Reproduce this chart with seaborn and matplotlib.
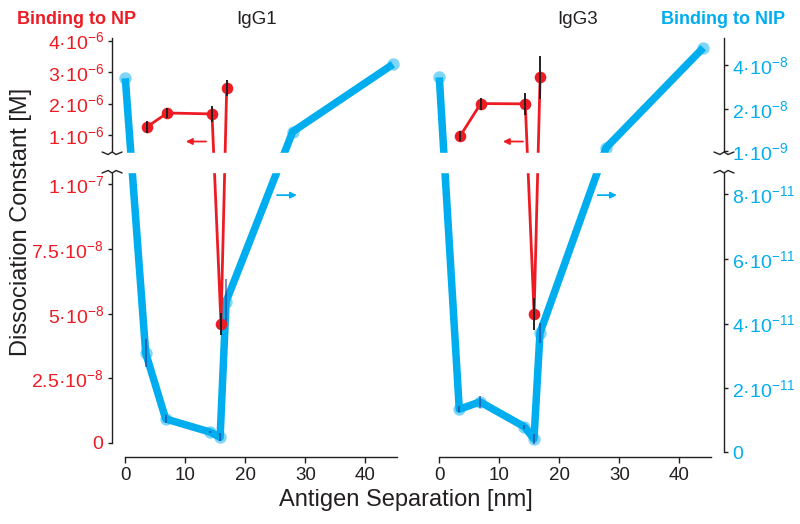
import numpy as np
import matplotlib
matplotlib.use("Agg")
import matplotlib.pyplot as plt
from matplotlib.lines import Line2D
import seaborn as sns

RED = "#ED1C24"
CYAN = "#00AEEF"
NAVY = "#2E3192"
INK = "#231F20"

# ── data ─────────────────────────────────────────────────────────────────────
# Binding to NP (red, left axis) [M]
np_x_igg1 = [3.55, 7.0, 14.45, 15.95, 16.9]
np_kd_igg1 = [1.25e-6, 1.70e-6, 1.67e-6, 4.6e-8, 2.5e-6]
np_err_igg1 = [0.19e-6, 0.16e-6, 0.25e-6, 4.3e-9, 0.25e-6]

np_x_igg3 = [3.45, 6.9, 14.33, 15.8, 16.8]
np_kd_igg3 = [0.96e-6, 2.0e-6, 1.99e-6, 4.99e-8, 2.84e-6]
np_err_igg3 = [0.16e-6, 0.19e-6, 0.35e-6, 6.3e-9, 0.68e-6]

# Binding to NIP (cyan, right axis) [M]
nip_x_igg1 = [0, 3.4, 6.73, 14.2, 15.8, 16.8, 27.9, 44.6]
nip_kd_igg1 = [3.40e-8, 3.08e-11, 1.04e-11, 6.3e-12, 4.7e-12, 4.68e-11, 9.9e-9, 4.03e-8]
nip_err_igg1 = [0, 4.3e-12, 1.2e-12, 0.3e-12, 1.2e-12, 7.0e-12, 0, 0]

nip_x_igg3 = [0, 3.33, 6.78, 14.17, 15.78, 16.78, 27.8, 44.0]
nip_kd_igg3 = [3.44e-8, 1.34e-11, 1.57e-11, 8.0e-12, 4.2e-12, 3.71e-11, 2.66e-9, 4.78e-8]
nip_err_igg3 = [0, 0.9e-12, 1.9e-12, 0.6e-12, 1.5e-12, 3.1e-12, 0, 0]

x_ticks = [0, 10, 20, 30, 40]
np_ticks = [0, 2.5e-8, 5e-8, 7.5e-8, 1e-7, 1e-6, 2e-6, 3e-6, 4e-6]
np_tick_labels = ["0", "2.5·10^{-8}", "5·10^{-8}", "7.5·10^{-8}", "1·10^{-7}",
                  "1·10^{-6}", "2·10^{-6}", "3·10^{-6}", "4·10^{-6}"]
nip_ticks = [0, 2e-11, 4e-11, 6e-11, 8e-11, 1e-9, 2e-8, 4e-8]
nip_tick_labels = ["0", "2·10^{-11}", "4·10^{-11}", "6·10^{-11}", "8·10^{-11}",
                   "1·10^{-9}", "2·10^{-8}", "4·10^{-8}"]

# ── style ────────────────────────────────────────────────────────────────────
sns.set_theme(style="ticks")
plt.rcParams["font.family"] = ["Liberation Sans", "DejaVu Sans"]
plt.rcParams["mathtext.fontset"] = "custom"
plt.rcParams["mathtext.rm"] = "Liberation Sans"
plt.rcParams["mathtext.default"] = "regular"

W, H = 800, 524
TOP_PX, BOTTOM_PX = 38, 457       # axes box rows (pixels from top)
GAP = (153, 172)                  # break rows
XLIM = (-2.2, 47.45)
PANEL_W = 297.9
PANEL_LEFT = [112.1, 426.1]


def broken_axis(ax, lo_zero_px, lo_px_per, hi_ref, hi_ref_px, hi_px_per):
    """Two linear y pieces around a gap, matched to the pixel rows of the figure."""
    def lo_val(px):
        return (lo_zero_px - px) / lo_px_per

    def hi_val(px):
        return hi_ref + (hi_ref_px - px) / hi_px_per

    v_b, v_t = lo_val(GAP[1]), hi_val(GAP[0])
    vals = np.array([lo_val(BOTTOM_PX + 2000), v_b, v_t, hi_val(TOP_PX - 2000)])
    rows = -np.array([BOTTOM_PX + 2000, GAP[1], GAP[0], TOP_PX - 2000], dtype=float)
    ax.set_yscale("function",
                  functions=(lambda v: np.interp(v, vals, rows),
                             lambda t: np.interp(t, rows, vals)))
    return (lo_val(BOTTOM_PX), hi_val(TOP_PX)), (v_b, v_t)


def zigzag(xc, yc, flip):
    dx = np.array([-10, -4, 0, 4, 10])
    dy = np.array([-1, 1.5, -1, 1.5, -1]) * flip
    fig.add_artist(Line2D((xc + dx) / W, 1 - (yc + dy) / H, transform=fig.transFigure,
                          color=INK, lw=1.0, solid_joinstyle="miter"))


fig = plt.figure(figsize=(W / 100, H / 100), dpi=100)

panels = [
    ("IgG1", nip_x_igg1, nip_kd_igg1, nip_err_igg1, np_x_igg1, np_kd_igg1, np_err_igg1,
     (13.45, 10.1), (25.3, 28.6)),
    ("IgG3", nip_x_igg3, nip_kd_igg3, nip_err_igg3, np_x_igg3, np_kd_igg3, np_err_igg3,
     (13.95, 10.6), (26.4, 29.6)),
]

for i, (name, nx, ny, ne, px, py, pe, red_arrow, blue_arrow) in enumerate(panels):
    ax = fig.add_axes([PANEL_LEFT[i] / W, 1 - BOTTOM_PX / H,
                       PANEL_W / W, (BOTTOM_PX - TOP_PX) / H])
    tw = ax.twinx()

    nip_lim, nip_gap = broken_axis(ax, 452.5, 3.225e12, 0.0, 153.6, 2.215e9)
    np_lim, np_gap = broken_axis(tw, 443, 2.585e9, 1e-6, 135, 3.145e7)

    # NIP (cyan): pale markers under a thick line, navy error bars on top
    sns.scatterplot(x=nx, y=ny, ax=ax, color=CYAN, alpha=0.5, s=80, linewidth=0,
                    zorder=2, clip_on=False)
    sns.lineplot(x=nx, y=ny, ax=ax, color=CYAN, linewidth=5.4, estimator=None,
                 zorder=3, solid_capstyle="butt", solid_joinstyle="round")
    ax.errorbar(nx, ny, yerr=ne, fmt="none", ecolor=NAVY, elinewidth=1.1,
                alpha=0.75, zorder=4)

    # NP (red)
    sns.lineplot(x=px, y=py, ax=tw, color=RED, linewidth=2.0, estimator=None, zorder=2)
    sns.scatterplot(x=px, y=py, ax=tw, color=RED, s=70, linewidth=0, zorder=3)
    tw.errorbar(px, py, yerr=pe, fmt="none", ecolor=INK, elinewidth=1.4, zorder=4)

    # arrows telling which axis a series belongs to
    tw.annotate("", xy=(red_arrow[1], 0.793e-6), xytext=(red_arrow[0], 0.793e-6),
                arrowprops=dict(arrowstyle="-|>", color=RED, lw=1.3,
                                mutation_scale=9, shrinkA=0, shrinkB=0))
    ax.annotate("", xy=(blue_arrow[1], 7.98e-11), xytext=(blue_arrow[0], 7.98e-11),
                arrowprops=dict(arrowstyle="-|>", color=CYAN, lw=1.3,
                                mutation_scale=9, shrinkA=0, shrinkB=0))

    # white band that breaks lines and spines
    tw.axhspan(np_gap[0], np_gap[1], xmin=-0.01, xmax=1.01, color="white",
               zorder=6, clip_on=False)

    ax.set_xlim(*XLIM)
    ax.set_ylim(*nip_lim)
    tw.set_ylim(*np_lim)
    for a in (ax, tw):
        a.set_xlabel("")
        a.set_ylabel("")
        for s in a.spines.values():
            s.set_visible(False)

    ax.spines["bottom"].set_visible(True)
    ax.spines["bottom"].set_bounds(0, 45.3)
    ax.spines["bottom"].set_color(INK)
    ax.spines["bottom"].set_linewidth(1.0)
    ax.set_xticks(x_ticks)
    ax.tick_params(axis="x", length=4, width=1.0, color=INK, labelcolor=INK,
                   labelsize=13.5, pad=3)

    if i == 0:
        sp = tw.spines["left"]
        tw.yaxis.tick_left()
        tw.set_yticks(np_ticks, [f"${t}$" for t in np_tick_labels])
        tw.tick_params(axis="y", length=3, width=1.0, color=INK, labelcolor=RED,
                       labelsize=14, pad=3)
        sp.set_bounds(0, np_lim[1])
        ax.tick_params(axis="y", left=False, right=False, labelleft=False, labelright=False)
        spine_px = PANEL_LEFT[i]
    else:
        sp = ax.spines["right"]
        ax.yaxis.tick_right()
        ax.set_yticks(nip_ticks, [f"${t}$" for t in nip_tick_labels])
        ax.tick_params(axis="y", length=3, width=1.0, color=INK, labelcolor=CYAN,
                       labelsize=14, pad=3)
        sp.set_bounds(0, nip_lim[1])
        tw.tick_params(axis="y", left=False, right=False, labelleft=False, labelright=False)
        spine_px = PANEL_LEFT[i] + PANEL_W
    sp.set_visible(True)
    sp.set_color(INK)
    sp.set_linewidth(1.0)

    zigzag(spine_px, GAP[0], 1)
    zigzag(spine_px, GAP[1], -1)

    fig.text([257, 578][i] / W, 1 - 20 / H, name, ha="center", va="center",
             fontsize=13.5, color=INK)

fig.text(76.5 / W, 1 - 19 / H, "Binding to NP", ha="center", va="center",
         fontsize=13, fontweight="bold", color=RED)
fig.text(723.5 / W, 1 - 19 / H, "Binding to NIP", ha="center", va="center",
         fontsize=13, fontweight="bold", color=CYAN)
fig.text(21 / W, 1 - 222 / H, "Dissociation Constant [M]", rotation=90,
         ha="center", va="center", fontsize=17, color=INK)
fig.text(406 / W, 1 - 500 / H, "Antigen Separation [nm]", ha="center", va="center",
         fontsize=17, color=INK)

fig.savefig("out.png", dpi=100)
